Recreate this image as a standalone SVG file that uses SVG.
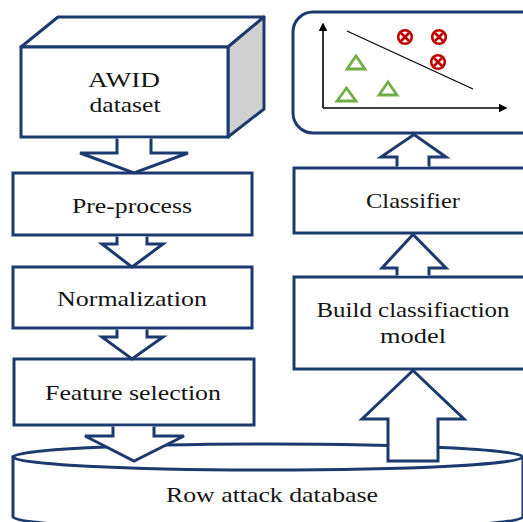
<svg xmlns="http://www.w3.org/2000/svg" width="523" height="522" viewBox="0 0 523 522">
  <defs>
    <style>
      .box { fill: #ffffff; stroke: #1c3a6e; stroke-width: 3; }
      .side { fill: #d0d0d0; stroke: #1c3a6e; stroke-width: 3; stroke-linejoin: round; }
      .arrow { fill: #ffffff; stroke: #1c3a6e; stroke-width: 3; stroke-linejoin: miter; }
      text { font-family: 'Liberation Serif', 'DejaVu Serif', serif; font-size: 22px; fill: #141414; text-anchor: middle; }
      .axis { stroke: #000000; stroke-width: 1.6; fill: none; }
      .sep { stroke: #000000; stroke-width: 1.2; }
      .cls-a { fill: none; stroke: #c00000; stroke-width: 2.6; }
      .cls-b { fill: none; stroke: #70ad47; stroke-width: 2.8; stroke-linejoin: miter; }
    </style>
    <marker id="axis-head" viewBox="0 0 10 10" refX="0" refY="5" markerWidth="8.5" markerHeight="8.5" markerUnits="userSpaceOnUse" orient="auto">
      <path d="M0,0 L10,5 L0,10 Z" fill="#000000"/>
    </marker>
    <g id="cross-mark">
      <circle cx="0" cy="0" r="6.8" class="cls-a"/>
      <path d="M-4,-4 L4,4 M4,-4 L-4,4" class="cls-a" stroke-width="2.2"/>
    </g>
  </defs>

  <rect width="523" height="522" fill="#ffffff"/>

  <!-- storage cylinder at the bottom -->
  <g id="row-attack-database">
    <path class="box" d="M13,457 L13,517 A255,13 0 0,0 523,517 L523,457 Z"/>
    <ellipse class="box" cx="268" cy="457" rx="255" ry="13"/>
    <text font-family="Liberation Serif, serif" x="272" y="502" textLength="212" lengthAdjust="spacingAndGlyphs">Row attack database</text>
  </g>

  <!-- dataset block drawn as a 3D box -->
  <g id="awid-dataset">
    <polygon class="box" points="21,47 58,17 264,17 228,47" stroke-linejoin="round"/>
    <polygon class="side" points="228,47 264,17 264,109 228,137"/>
    <rect class="box" x="21" y="47" width="207" height="90"/>
    <text font-family="Liberation Serif, serif" x="124" y="87" textLength="72" lengthAdjust="spacingAndGlyphs">AWID</text>
    <text font-family="Liberation Serif, serif" x="125" y="112" textLength="71" lengthAdjust="spacingAndGlyphs">dataset</text>
  </g>

  <g id="pre-process">
    <rect class="box" x="13" y="173" width="239" height="62"/>
    <text font-family="Liberation Serif, serif" x="132" y="213" textLength="120" lengthAdjust="spacingAndGlyphs">Pre-process</text>
  </g>

  <g id="normalization">
    <rect class="box" x="13" y="267" width="239" height="61"/>
    <text font-family="Liberation Serif, serif" x="132" y="306" textLength="150" lengthAdjust="spacingAndGlyphs">Normalization</text>
  </g>

  <g id="feature-selection">
    <rect class="box" x="14" y="359" width="240" height="66"/>
    <text font-family="Liberation Serif, serif" x="133" y="400" textLength="176" lengthAdjust="spacingAndGlyphs">Feature selection</text>
  </g>

  <g id="build-model">
    <rect class="box" x="294" y="277" width="240" height="92"/>
    <text font-family="Liberation Serif, serif" x="413" y="317" textLength="193" lengthAdjust="spacingAndGlyphs">Build classifiaction</text>
    <text font-family="Liberation Serif, serif" x="413" y="343" textLength="66" lengthAdjust="spacingAndGlyphs">model</text>
  </g>

  <g id="classifier">
    <rect class="box" x="294" y="168" width="240" height="65"/>
    <text font-family="Liberation Serif, serif" x="413" y="208" textLength="94" lengthAdjust="spacingAndGlyphs">Classifier</text>
  </g>

  <!-- scatter plot with a separating line -->
  <g id="decision-plot">
    <rect class="box" x="293" y="12" width="250" height="121" rx="20" ry="20"/>
    <line class="axis" x1="323" y1="108" x2="323" y2="31" marker-end="url(#axis-head)"/>
    <line class="axis" x1="323" y1="108" x2="499" y2="108" marker-end="url(#axis-head)"/>
    <line class="sep" x1="347" y1="31" x2="473" y2="89"/>
    <use href="#cross-mark" x="405" y="37"/>
    <use href="#cross-mark" x="439" y="37"/>
    <use href="#cross-mark" x="438" y="62"/>
    <polygon class="cls-b" points="356,56 365,69 347,69"/>
    <polygon class="cls-b" points="346.5,88 356,101 337,101"/>
    <polygon class="cls-b" points="388,82 397,95 379,95"/>
  </g>

  <!-- block arrows between the stages -->
  <g id="connectors">
    <polyline class="arrow" points="117,138.5 117,153 80,153 134,173 188,153 151,153 151,138.5"/>
    <polyline class="arrow" points="117,236.5 117,244 102,244 132,267 163,244 147,244 147,236.5"/>
    <polyline class="arrow" points="117,329.5 117,337 102,337 132,359 163,337 147,337 147,329.5"/>
    <polyline class="arrow" points="113,426.5 113,436 85,436 134,461 184,436 154,436 154,426.5"/>
    <polygon class="arrow" points="388,461 388,419 362,419 413,370.5 464,419 438,419 438,461"/>
    <polyline class="arrow" points="397,275.5 397,268 382,268 413,234.5 446,268 429,268 429,275.5"/>
    <polyline class="arrow" points="397,166.5 397,157 381,157 414,134.5 446,157 429,157 429,166.5"/>
  </g>
</svg>
